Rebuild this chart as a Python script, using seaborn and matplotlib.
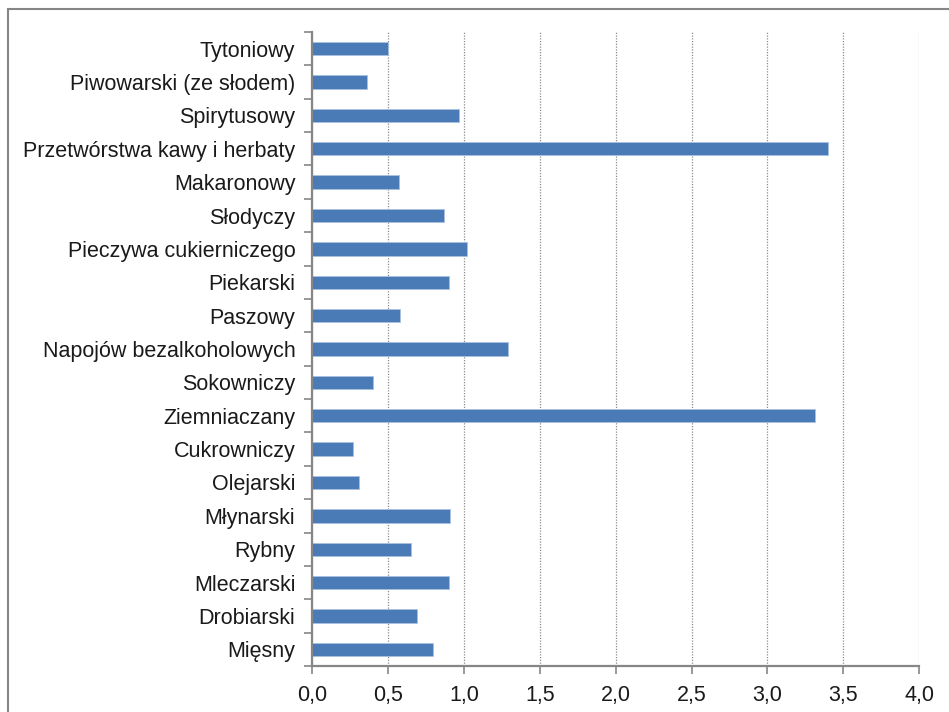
import numpy as np
import matplotlib.pyplot as plt
import seaborn as sns
import pandas as pd
from matplotlib.patches import Rectangle
from matplotlib.ticker import FuncFormatter

# branches (top to bottom) and their values
branze = ["Tytoniowy", "Piwowarski (ze słodem)", "Spirytusowy",
          "Przetwórstwa kawy i herbaty", "Makaronowy", "Słodyczy",
          "Pieczywa cukierniczego", "Piekarski", "Paszowy",
          "Napojów bezalkoholowych", "Sokowniczy", "Ziemniaczany",
          "Cukrowniczy", "Olejarski", "Młynarski", "Rybny",
          "Mleczarski", "Drobiarski", "Mięsny"]
wartosci = [0.50, 0.36, 0.97, 3.40, 0.57, 0.87, 1.02, 0.90, 0.58, 1.29,
            0.40, 3.31, 0.27, 0.31, 0.91, 0.65, 0.90, 0.69, 0.80]
x_ticks = [0.0, 0.5, 1.0, 1.5, 2.0, 2.5, 3.0, 3.5, 4.0]

df = pd.DataFrame({"branza": branze, "wartosc": wartosci})

sns.set_style("white")
plt.rcParams["font.family"] = ["Liberation Sans", "DejaVu Sans"]

fig = plt.figure(figsize=(9.49, 7.12), dpi=100)
ax = fig.add_axes([312 / 949, 1 - 666 / 712, (919.3 - 312) / 949, (666 - 32) / 712])

sns.barplot(data=df, x="wartosc", y="branza", orient="h", color="#4a7bb7",
            width=0.4, saturation=1, edgecolor="#a9c1e0", linewidth=0.6, ax=ax)

ax.set_xlim(0, 4.0)
ax.set_ylim(len(branze) - 0.5, -0.5)
ax.set_xticks(x_ticks)
ax.xaxis.set_major_formatter(FuncFormatter(lambda v, p: f"{v:.1f}".replace(".", ",")))
ax.set_yticks(np.arange(len(branze) + 1) - 0.5, minor=True)

ax.grid(axis="x", color="#8c8c8c", linestyle=(0, (1, 1.2)), linewidth=0.9)
ax.set_axisbelow(True)
ax.set_xlabel("")
ax.set_ylabel("")

for s in ["top", "right"]:
    ax.spines[s].set_visible(False)
for s in ["left", "bottom"]:
    ax.spines[s].set_color("#868686")
    ax.spines[s].set_linewidth(1.6)

ax.tick_params(axis="y", which="major", length=0, pad=12, labelsize=15.5, labelcolor="#1a1a1a")
ax.tick_params(axis="y", which="minor", length=6, width=1.2, color="#868686", left=True)
ax.tick_params(axis="x", which="major", length=6, width=1.2, color="#868686", bottom=True,
               pad=8, labelsize=15.5, labelcolor="#1a1a1a")

# outer chart frame
fig.patches.append(Rectangle((8 / 949, -0.1), 1.2, 1 - 9 / 712 + 0.1, transform=fig.transFigure,
                             fill=False, edgecolor="#868686", linewidth=1.5, clip_on=False))

fig.savefig("out.png", dpi=100)
